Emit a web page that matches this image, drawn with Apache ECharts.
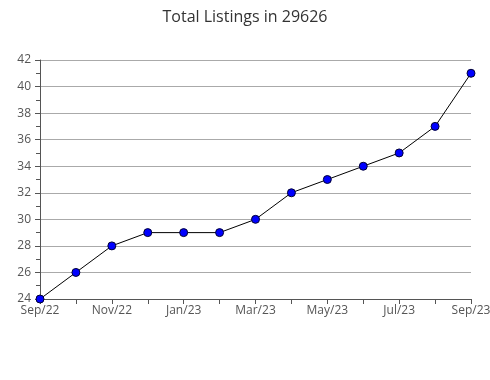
<!DOCTYPE html>
<html><head><meta charset="utf-8">
<script src="https://cdn.jsdelivr.net/npm/echarts@6/dist/echarts.min.js"></script>
<style>html,body{margin:0;padding:0;background:#fff}#c{width:490px;height:380px}</style>
</head><body><div id="c"></div>
<script>
const categories = ['Sep/22','Oct/22','Nov/22','Dec/22','Jan/23','Feb/23','Mar/23','Apr/23','May/23','Jun/23','Jul/23','Aug/23','Sep/23'];
const listings = [24, 26, 28, 29, 29, 29, 30, 32, 33, 34, 35, 37, 41];
const yMin = 24, yMax = 42, yStep = 2;

const chart = echarts.init(document.getElementById('c'), null, {renderer:'canvas'});
chart.setOption({
  animation: false,
  title: {text: 'Total Listings in 29626', left: 'center', top: 4,
    textStyle: {fontFamily: 'Open Sans', fontWeight: 'normal', fontSize: 16, color: '#333'}},
  grid: {left: 40, right: 19, top: 60, bottom: 81, outerBoundsMode: 'none', containLabel: false},
  xAxis: {type: 'category', data: categories, boundaryGap: false,
    axisLine: {lineStyle: {color: '#555'}},
    axisTick: {show: true, interval: 0, length: 5, lineStyle: {color: '#555'}},
    axisLabel: {interval: 1, color: '#555', fontFamily: 'Open Sans', fontSize: 12, margin: 6},
    splitLine: {show: false}},
  yAxis: {type: 'value', min: yMin, max: yMax, interval: yStep,
    axisLine: {show: true, lineStyle: {color: '#555'}},
    axisTick: {show: true, length: 5, lineStyle: {color: '#555'}},
    minorTick: {show: true, splitNumber: 2, length: 4, lineStyle: {color: '#555'}},
    axisLabel: {color: '#555', fontFamily: 'Open Sans', fontSize: 12, margin: 9},
    splitLine: {show: true, lineStyle: {color: '#aaa'}}},
  series: [{type: 'line', data: listings, symbol: 'circle', symbolSize: 8,
    lineStyle: {color: '#000', width: 1},
    itemStyle: {color: '#0000ff', borderColor: '#000033', borderWidth: 1}}]
});
</script></body></html>
